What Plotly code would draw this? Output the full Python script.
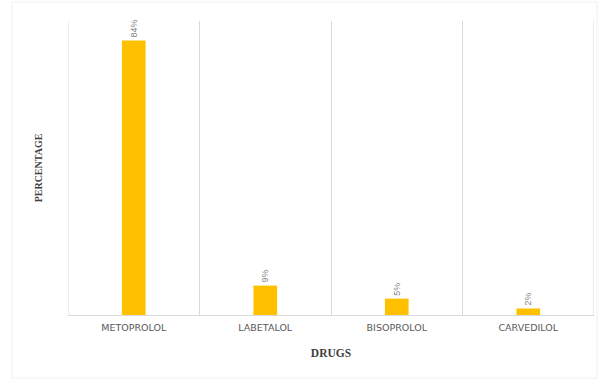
import plotly.graph_objects as go

drugs = ["METOPROLOL", "LABETALOL", "BISOPROLOL", "CARVEDILOL"]
percent = [84, 9, 5, 2]
labels = ["84%", "9%", "5%", "2%"]

xpos = [i + 0.5 for i in range(len(drugs))]

fig = go.Figure()
fig.add_trace(go.Bar(
    x=xpos, y=percent, width=0.18,
    marker=dict(color="#FFC000", line=dict(width=0)),
    text=labels, textposition="outside", textangle=-90,
    textfont=dict(family="Liberation Sans, Arial", size=9, color="#7f7f7f"),
    cliponaxis=False,
))

W, H = 604, 382
L, R, T, B = 68, 10, 21, 67
pw, ph = W - L - R, H - T - B

fig.update_layout(
    width=W, height=H,
    margin=dict(l=L, r=R, t=T, b=B),
    paper_bgcolor="white", plot_bgcolor="white",
    showlegend=False,
    xaxis=dict(
        range=[0, len(drugs)], tickmode="array", tickvals=xpos, ticktext=drugs,
        showgrid=False, zeroline=False,
        showline=True, linecolor="#d9d9d9", linewidth=1,
        ticks="outside", ticklen=4, tickcolor="rgba(0,0,0,0)",
        tickfont=dict(family="DejaVu Sans", size=9.5, color="#595959"),
        minor=dict(tickvals=list(range(len(drugs) + 1)), showgrid=True,
                   gridcolor="#d9d9d9", gridwidth=1, ticks=""),
        title=dict(text="<b>DRUGS</b>", standoff=16,
                   font=dict(family="Liberation Serif, Times New Roman", size=11.5, color="#404040")),
    ),
    yaxis=dict(
        range=[0, 90], showgrid=False, zeroline=False, showticklabels=False,
        showline=False, ticks="",
        title=dict(text="<b>PERCENTAGE</b>", standoff=22,
                   font=dict(family="Liberation Serif, Times New Roman", size=10, color="#404040")),
    ),
)

for xv in (0, len(drugs)):
    fig.add_shape(type="line", xref="x", yref="paper", x0=xv, x1=xv, y0=0, y1=1,
                  line=dict(color="#d9d9d9", width=1), layer="below")

fig.add_shape(type="rect", xref="paper", yref="paper",
              x0=(12 - L) / pw, x1=(597 - L) / pw,
              y0=(H - B - 378) / ph, y1=(H - B - 2) / ph,
              line=dict(color="#f0f0f0", width=1), layer="below")

fig.write_html("out.html")
